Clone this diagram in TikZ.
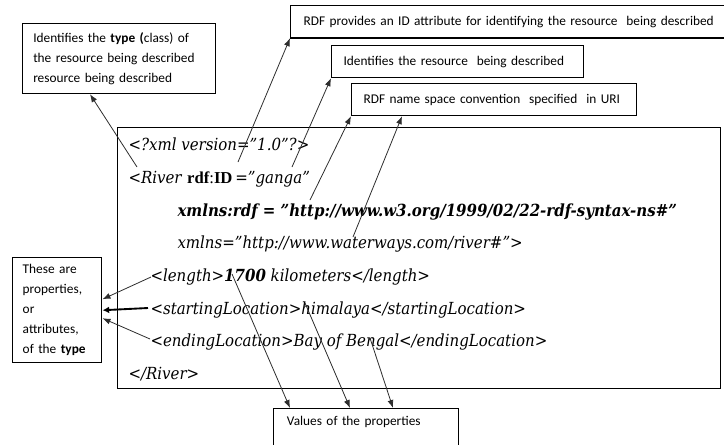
\documentclass[tikz,border=0pt]{standalone}
\usepackage{fontspec}
\setmainfont{DejaVu Serif Condensed}
\newfontfamily\notefont{Carlito}
\newfontfamily\idfont{Liberation Serif}
\usetikzlibrary{arrows.meta,calc}

\tikzset{every picture/.style={line width=0.75pt}}

\begin{document}
\begin{tikzpicture}[x=0.75pt,y=0.75pt,yscale=-1,xscale=1,
  note/.style={draw, line width=0.9pt, anchor=north west, inner xsep=8pt, inner ysep=0pt, align=left, font=\notefont\fontsize{10}{15}\selectfont},
  xml/.style={anchor=base west, inner sep=0pt, font=\fontsize{12.5}{15}\selectfont\itshape},
  ptr/.style={draw={rgb,255:red,45;green,45;blue,45}, line width=0.6pt, -{Latex[length=6pt,width=4.5pt]}},
  fatptr/.style={ptr, draw=black, line width=1.4pt, -{Latex[length=5pt,width=5pt]}}
]
\useasboundingbox (0,0) rectangle (724,444);

%Shape: Rectangle [type of the resource]
\node[note, minimum width=144.75pt, minimum height=52.5pt, text width=128.75pt] (typebox) at (22,23)
  {Identifies the \textbf{type (}class) of\\the resource being described\\resource being described};
%Shape: Rectangle [ID attribute]
\node[note, inner xsep=9.75pt, minimum width=330pt, minimum height=24pt, text width=310.5pt] (rdfidbox) at (290,5)
  {RDF provides an ID attribute for identifying the resource\ \ being described};
\draw[line width=1.6pt] (rdfidbox.south west) -- (rdfidbox.south east);
%Shape: Rectangle [resource]
\node[note, inner xsep=9pt, minimum width=189pt, minimum height=24pt, text width=171pt] (resbox) at (331,45)
  {Identifies the resource\ \ being described};
%Shape: Rectangle [name space]
\node[note, inner xsep=9pt, minimum width=213.75pt, minimum height=24pt, text width=195.75pt] (nsbox) at (351,83)
  {RDF name space convention\ \ specified\ \ in URI};
%Shape: Rectangle [properties]
\node[note, line width=1.1pt, inner xsep=7.5pt, minimum width=66.75pt, minimum height=78.75pt, text width=51.75pt] (propbox) at (12,257)
  {These are\\properties,\\or\\attributes,\\of the \textbf{type}};
%Shape: Rectangle [values]
\node[note, inner xsep=10pt, minimum width=138.75pt, text width=118.75pt, text height=12.75pt, text depth=30pt] (valbox) at (273,408)
  {Values of the properties};
%Shape: Rectangle [xml frame]
\node[draw, line width=1.1pt, anchor=north west, minimum width=452.25pt, minimum height=195.75pt] (xmlbox) at (117,127) {};

% Text Node
\node[xml] (xmldecl) at (128,150) {<?xml version="1.0"?>};
% Text Node
\node[xml] (river) at (128,183) {<River \textup{{\idfont\bfseries rdf}{\idfont:}{\idfont\bfseries ID}\,=}"ganga"};
% Text Node
\node[xml] (nsrdf) at (177,216) {\bfseries xmlns:rdf = "http://www.w3.org/1999/02/22-rdf-syntax-ns\#"};
% Text Node
\node[xml] (nsriver) at (177,248) {xmlns="http://www.waterways.com/river\#">};
% Text Node
\node[xml] (length) at (150,281) {<length>\textbf{1700} kilometers</length>};
% Text Node
\node[xml] (start) at (150,314) {<startingLocation>himalaya</startingLocation>};
% Text Node
\node[xml] (end) at (150,346) {<endingLocation>Bay of Bengal</endingLocation>};
% Text Node
\node[xml] (riverend) at (128,379) {</River>};

% free ends of the pointers
\coordinate (cRiver) at (137,167);
\coordinate (cID) at (238,162);
\coordinate (cGanga) at (292,167);
\coordinate (cHttp) at (310,200);
\coordinate (cWater) at (353,237);
\coordinate (cLength) at (151,277);
\coordinate (cStart) at (148,308);
\coordinate (cEnd) at (150,339);
\coordinate (cKm) at (232,274);
\coordinate (cHima) at (305,303);
\coordinate (cBengal) at (370,338);

%Straight Lines
\draw[ptr] (cRiver) -- ($(typebox.south west)+(68,0)$);
\draw[ptr] (cID) -- (rdfidbox.south west);
\draw[ptr] (cGanga) -- (resbox.south west);
\draw[ptr] (cHttp) -- (nsbox.south west);
\draw[ptr] (cWater) -- ($(nsbox.south west)+(51,0)$);
%Straight Lines
\draw[ptr] (cLength) -- ($(propbox.east)+(0,-11)$);
\draw[fatptr] (cStart) -- (propbox.east);
\draw[ptr] (cEnd) -- ($(propbox.east)+(0,8)$);
%Straight Lines
\draw[ptr] (cKm) -- ($(valbox.north west)+(17,0)$);
\draw[ptr] (cHima) -- ($(valbox.north west)+(77,0)$);
\draw[ptr] (cBengal) -- ($(valbox.north west)+(120,0)$);

\end{tikzpicture}
\end{document}
